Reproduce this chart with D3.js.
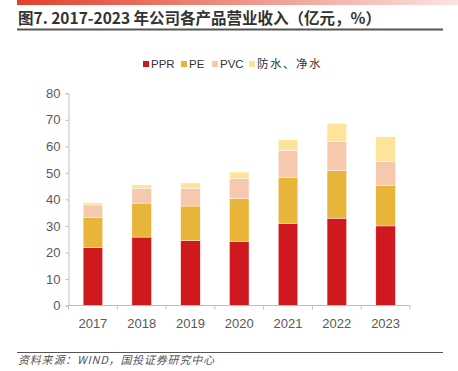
<!DOCTYPE html>
<html>
<head>
<meta charset="utf-8">
<script src="https://cdn.jsdelivr.net/npm/d3@7"></script>
<style>
  body { margin: 0; background: #fff; }
  svg { display: block; font-family: "Liberation Sans", Arial, sans-serif; }
</style>
</head>
<body>
<svg id="chart" width="458" height="371"></svg>
<script>
// data (亿元)
const years = ['2017', '2018', '2019', '2020', '2021', '2022', '2023'];
const seriesNames = ['PPR', 'PE', 'PVC', '防水、净水'];
const ppr = [21.8, 25.8, 24.5, 24.1, 30.9, 32.9, 30.0];
const pe = [11.3, 12.8, 13.0, 16.2, 17.3, 18.0, 15.2];
const pvc = [4.8, 5.6, 6.7, 7.5, 10.2, 10.9, 9.1];
const water = [0.8, 1.3, 2.0, 2.5, 4.1, 6.9, 9.3];
const yTicks = [0, 10, 20, 30, 40, 50, 60, 70, 80];
const colors = ['#D0191F', '#E8B43A', '#F6C8AE', '#FDE49A'];

const svg = d3.select('#chart');

// top gradient strip
const defs = svg.append('defs');
const grad = defs.append('linearGradient').attr('id', 'topbar');
grad.append('stop').attr('offset', '0%').attr('stop-color', '#E0402A');
grad.append('stop').attr('offset', '100%').attr('stop-color', '#FBE3E0');
svg.append('rect').attr('x', 17).attr('y', 0).attr('width', 441).attr('height', 5)
  .attr('fill', 'url(#topbar)');

// title
svg.append('text')
  .attr('x', 18).attr('y', 24)
  .attr('font-size', 15.5).attr('font-weight', 'bold').attr('fill', '#333')
  .attr('font-family', '"Noto Sans CJK SC", sans-serif')
  .text('图7. 2017-2023 年公司各产品营业收入（亿元，%）');
svg.append('line').attr('x1', 17).attr('x2', 443).attr('y1', 29.5).attr('y2', 29.5)
  .attr('stroke', '#555').attr('stroke-width', 2);

// footer
svg.append('line').attr('x1', 17).attr('x2', 443).attr('y1', 352.5).attr('y2', 352.5)
  .attr('stroke', '#555').attr('stroke-width', 1);
svg.append('text')
  .attr('x', 18).attr('y', 364)
  .attr('font-size', 11).attr('font-style', 'italic').attr('fill', '#555')
  .attr('letter-spacing', 0.8)
  .attr('font-family', '"Noto Sans CJK SC", sans-serif')
  .text('资料来源：WIND，国投证券研究中心');

// chart area
const margin = { left: 68.5, right: 48, top: 93.3, bottom: 65.5 };
const innerW = 458 - margin.left - margin.right;
const innerH = 371 - margin.top - margin.bottom;

const x = d3.scaleBand().domain(years).range([0, innerW]).paddingInner(0.6).paddingOuter(0.3);
const y = d3.scaleLinear().domain([0, 80]).range([innerH, 0]);

const g = svg.append('g').attr('transform', `translate(${margin.left},${margin.top})`);

const table = years.map((yr, i) => ({ year: yr, PPR: ppr[i], PE: pe[i], PVC: pvc[i], '防水、净水': water[i] }));
const stacked = d3.stack().keys(seriesNames)(table);

g.selectAll('g.layer')
  .data(stacked)
  .enter().append('g')
  .attr('class', 'layer')
  .attr('fill', (d, i) => colors[i])
  .selectAll('rect')
  .data(d => d)
  .enter().append('rect')
  .attr('x', d => x(d.data.year))
  .attr('y', d => y(d[1]))
  .attr('width', x.bandwidth())
  .attr('height', d => y(d[0]) - y(d[1]))
  .attr('stroke', '#fff').attr('stroke-width', 0.4);

// y axis
const yAxis = g.append('g')
  .call(d3.axisLeft(y).tickValues(yTicks).tickSize(3).tickPadding(5));
yAxis.select('.domain').attr('stroke', '#bfbfbf');
yAxis.selectAll('.tick line').attr('stroke', '#bfbfbf');
yAxis.selectAll('text').attr('font-size', 13).attr('fill', '#595959')
  .attr('font-family', '"Liberation Sans", Arial, sans-serif');

// x axis with ticks at band boundaries
const xAxisG = g.append('g').attr('transform', `translate(0,${innerH})`);
xAxisG.append('line').attr('x1', 0).attr('x2', innerW).attr('stroke', '#bfbfbf');
const bounds = d3.range(years.length + 1).map(i => i * innerW / years.length);
xAxisG.selectAll('line.tk').data(bounds).enter().append('line')
  .attr('class', 'tk')
  .attr('x1', d => d).attr('x2', d => d).attr('y1', 0).attr('y2', 4)
  .attr('stroke', '#bfbfbf');
xAxisG.selectAll('text').data(years).enter().append('text')
  .attr('x', d => x(d) + x.bandwidth() / 2)
  .attr('y', 22)
  .attr('text-anchor', 'middle')
  .attr('font-size', 13).attr('fill', '#595959')
  .text(d => d);

// legend
const legendX = [143, 181, 212, 249];
const legend = svg.append('g').selectAll('g')
  .data(seriesNames)
  .enter().append('g')
  .attr('transform', (d, i) => `translate(${legendX[i]}, 64)`);
legend.append('rect')
  .attr('x', 0).attr('y', -3).attr('width', 6).attr('height', 6)
  .attr('fill', (d, i) => colors[i]);
legend.append('text')
  .attr('x', 8).attr('y', 4)
  .attr('font-size', 11.5).attr('fill', '#333')
  .attr('letter-spacing', (d, i) => i === 3 ? 1.5 : 0)
  .attr('font-family', '"Liberation Sans", "Noto Sans CJK SC", sans-serif')
  .text(d => d);
</script>
</body>
</html>
